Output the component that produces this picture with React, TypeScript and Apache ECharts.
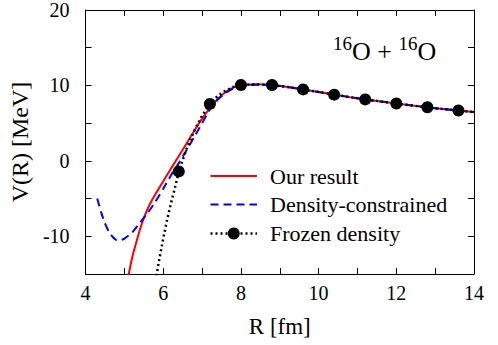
import React, { useEffect, useRef } from "react";
import * as echarts from "echarts";

const rRed = [5.1, 5.2, 5.3, 5.4, 5.5, 5.6, 5.7, 5.8, 6.0, 6.2, 6.4, 6.6, 6.8, 7.0, 7.2, 7.4, 7.6, 7.8, 8.0, 8.4, 8.8, 9.2, 9.6, 10.0, 10.4, 10.8, 11.2, 11.6, 12.0, 12.4, 12.8, 13.2, 13.6, 14.0];
const vRed = [-15.3, -12.8, -10.9, -9.1, -7.6, -6.35, -5.3, -4.4, -2.7, -1.0, 0.65, 2.3, 4.0, 5.6, 7.0, 8.2, 9.1, 9.7, 10.0, 10.15, 10.05, 9.8, 9.47, 9.12, 8.78, 8.45, 8.15, 7.87, 7.6, 7.35, 7.1, 6.88, 6.67, 6.47];

const rBlue = [4.3, 4.4, 4.5, 4.6, 4.7, 4.8, 4.9, 5.0, 5.2, 5.4, 5.6, 5.8, 6.0, 6.2, 6.4, 6.6, 6.8, 7.0, 7.2, 7.4, 7.6, 7.8, 8.0, 8.4, 8.8, 9.2, 9.6, 10.0, 10.4, 10.8, 11.2, 11.6, 12.0, 12.4, 12.8, 13.2, 13.6, 14.0];
const vBlue = [-5.0, -6.8, -8.3, -9.4, -10.1, -10.5, -10.5, -10.3, -9.5, -8.2, -6.9, -5.4, -3.7, -1.9, -0.3, 1.4, 3.2, 5.0, 6.8, 8.1, 9.0, 9.6, 9.95, 10.1, 10.05, 9.8, 9.47, 9.12, 8.78, 8.45, 8.15, 7.87, 7.6, 7.35, 7.1, 6.88, 6.67, 6.47];

const rFrozen = [5.8, 5.9, 6.0, 6.1, 6.2, 6.3, 6.4, 6.6, 6.8, 7.0, 7.2, 7.4, 7.6, 7.8, 8.0, 8.4, 8.8, 9.2, 9.6, 10.0, 10.4, 10.8, 11.2, 11.6, 12.0, 12.4, 12.8, 13.2, 13.6, 14.0];
const vFrozen = [-15.9, -13.0, -10.3, -7.8, -5.6, -3.6, -1.4, 1.6, 4.0, 6.0, 7.55, 8.6, 9.3, 9.8, 10.05, 10.15, 10.05, 9.8, 9.47, 9.12, 8.78, 8.45, 8.15, 7.87, 7.6, 7.35, 7.1, 6.88, 6.67, 6.47];
const rMarkers = [6.4, 7.2, 8.0, 8.8, 9.6, 10.4, 11.2, 12.0, 12.8, 13.6];

const seriesNames = ["Our result", "Density-constrained", "Frozen density"];
const xLabels = [4, 6, 8, 10, 12, 14];
const yLabels = [20, 10, 0, -10];

const FONT = "Liberation Serif";

export default function App() {
  const ref = useRef<HTMLDivElement>(null);
  useEffect(() => {
    if (!ref.current) return;
    const chart = echarts.init(ref.current, undefined, { renderer: "svg" });
    const axisCommon = {
      type: "value",
      axisLine: { show: true, onZero: false, lineStyle: { color: "#000", width: 1 } },
      axisTick: { show: true, inside: true, length: 6, lineStyle: { color: "#000" } },
      splitLine: { show: false },
    };
    const frozenData = rFrozen.map((r, i) => {
      const isMarker = rMarkers.some((m) => Math.abs(m - r) < 1e-6);
      return isMarker ? { value: [r, vFrozen[i]] } : { value: [r, vFrozen[i]], symbol: "none" };
    });

    const legendX1 = 210.5;
    const legendX2 = 257;
    const legendTextX = 270;
    const legendRows = [176, 204.5, 233.5];
    const legendStyles = [
      { stroke: "#ff0000", lineWidth: 2 },
      { stroke: "#0000ff", lineWidth: 2, lineDash: [8, 5] },
      { stroke: "#000", lineWidth: 2.5, lineDash: [2, 3] },
    ];
    const legendGraphics: any[] = [];
    seriesNames.forEach((name, i) => {
      legendGraphics.push({
        type: "line",
        shape: { x1: legendX1, y1: legendRows[i], x2: legendX2, y2: legendRows[i] },
        style: { ...legendStyles[i] },
        z: 10,
      });
      legendGraphics.push({
        type: "text",
        x: legendTextX,
        y: legendRows[i],
        style: { text: name, fontFamily: FONT, fontSize: 22, fill: "#000", verticalAlign: "middle" },
        z: 10,
      });
    });
    legendGraphics.push({
      type: "circle",
      shape: { cx: (legendX1 + legendX2) / 2, cy: legendRows[2], r: 6 },
      style: { fill: "#000" },
      z: 11,
    });

    chart.setOption({
      animation: false,
      grid: { left: 77.5, right: 24, top: 8, bottom: 71 },
      xAxis: [
        {
          ...axisCommon,
          min: 4,
          max: 14,
          interval: 1,
          position: "bottom",
          name: "R [fm]",
          nameLocation: "middle",
          nameGap: 41,
          nameTextStyle: { fontFamily: FONT, fontSize: 23, color: "#000" },
          axisLabel: {
            show: true,
            margin: 9,
            fontFamily: FONT,
            fontSize: 20,
            color: "#000",
            formatter: (v: number) => (xLabels.includes(v) ? String(v) : ""),
          },
        },
        { ...axisCommon, min: 4, max: 14, interval: 1, position: "top", axisLabel: { show: false } },
      ],
      yAxis: [
        {
          ...axisCommon,
          min: -15,
          max: 20,
          interval: 5,
          position: "left",
          name: "V(R) [MeV]",
          nameLocation: "middle",
          nameGap: 44,
          nameTextStyle: { fontFamily: FONT, fontSize: 24, color: "#000" },
          axisLabel: {
            show: true,
            margin: 16,
            fontFamily: FONT,
            fontSize: 20,
            color: "#000",
            formatter: (v: number) => (yLabels.includes(v) ? String(v) : ""),
          },
        },
        { ...axisCommon, min: -15, max: 20, interval: 5, position: "right", axisLabel: { show: false } },
      ],
      graphic: [
        {
          type: "text",
          left: 333,
          top: 34,
          style: {
            text: "{s|16}{m|O + }{s|16}{m|O}",
            rich: {
              s: { fontFamily: FONT, fontSize: 19, fill: "#000", verticalAlign: "top", lineHeight: 10 },
              m: { fontFamily: FONT, fontSize: 26, fill: "#000", verticalAlign: "bottom", lineHeight: 30 },
            },
          },
        },
        ...legendGraphics,
      ],
      series: [
        {
          name: seriesNames[0],
          type: "line",
          symbol: "none",
          smooth: 0.2,
          data: rRed.map((r, i) => [r, vRed[i]]),
          lineStyle: { color: "#ff0000", width: 2 },
          itemStyle: { color: "#ff0000" },
          z: 2,
        },
        {
          name: seriesNames[1],
          type: "line",
          symbol: "none",
          smooth: 0.2,
          data: rBlue.map((r, i) => [r, vBlue[i]]),
          lineStyle: { color: "#0000ff", width: 2, type: [8, 5] },
          itemStyle: { color: "#0000ff" },
          z: 3,
        },
        {
          name: seriesNames[2],
          type: "line",
          symbol: "circle",
          symbolSize: 12,
          showSymbol: true,
          data: frozenData,
          lineStyle: { color: "#000", width: 2.5, type: [2, 3] },
          itemStyle: { color: "#000" },
          z: 4,
        },
      ],
    });
    return () => chart.dispose();
  }, []);
  return <div ref={ref} style={{ width: 498, height: 345, position: "absolute", left: 0, top: 0 }} />;
}
